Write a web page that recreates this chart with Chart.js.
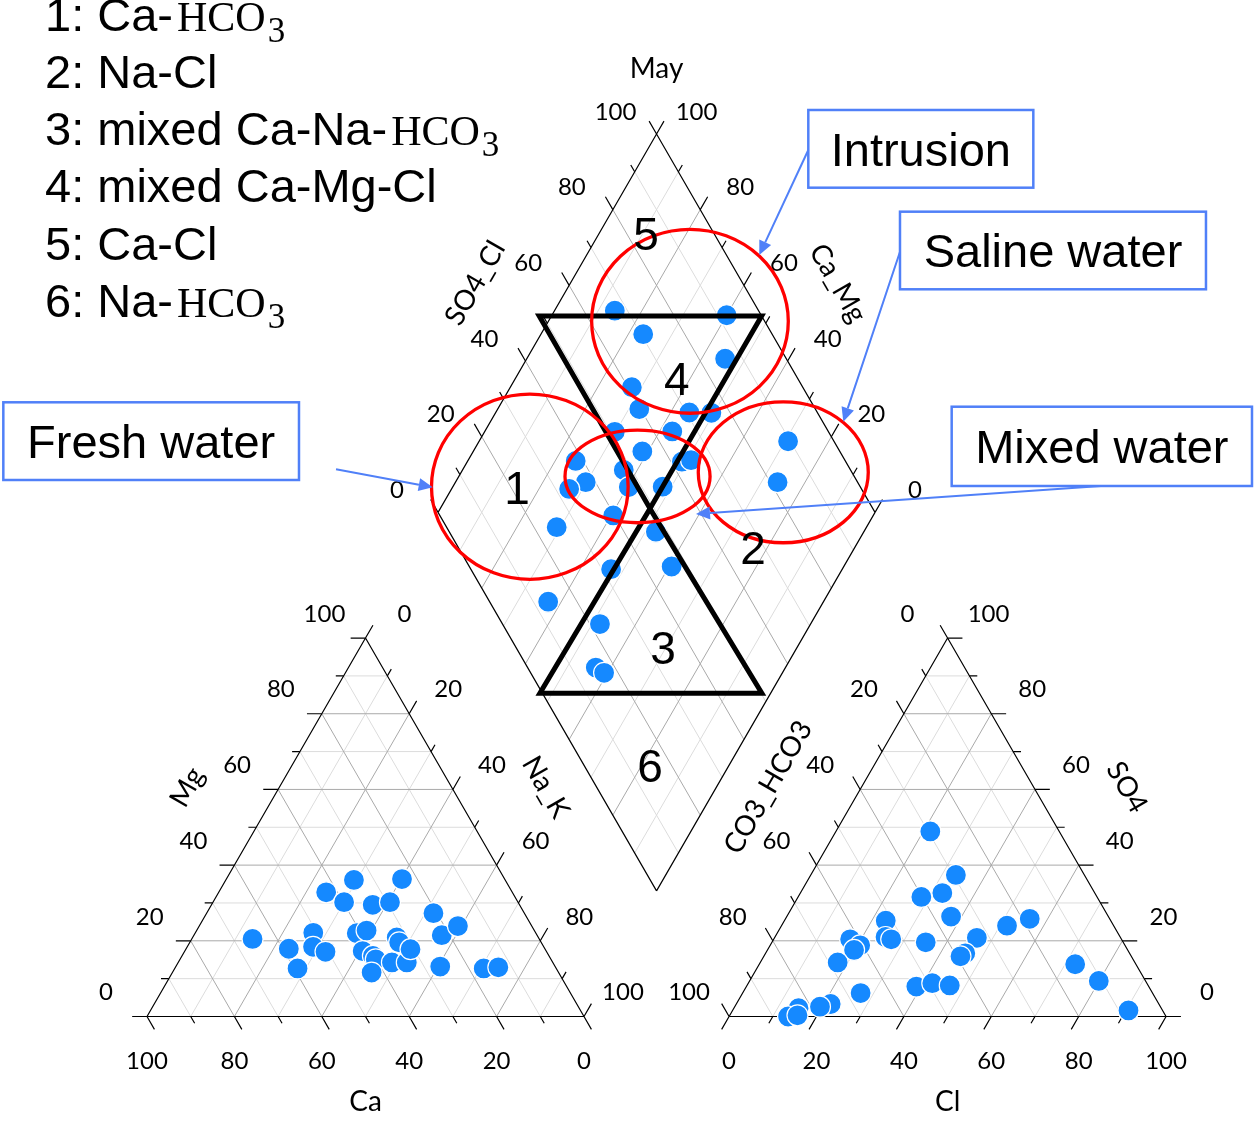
<!DOCTYPE html>
<html>
<head>
<meta charset="utf-8">
<script src="https://cdn.jsdelivr.net/npm/chart.js@4.4.1/dist/chart.umd.min.js"></script>
<style>
  html, body { margin: 0; padding: 0; background: #fff; }
  #wrap { width: 1254px; height: 1124px; }
</style>
</head>
<body>
<div id="wrap"><canvas id="piper"></canvas></div>
<script>
// cation triangle, % meq
const cationCa  = [65.6, 58.6, 59.2, 50.9, 52.8, 50.6, 42.6, 39.8, 34.6, 33.6, 29.3, 23.5, 41.0, 38.4, 42.0, 40.3, 40.1, 42.8, 36.8, 33.4, 32.4, 32.5, 30.8, 20.8, 21.8, 16.9, 26.3, 16.6, 13.1];
const cationMg  = [20.5, 17.9, 12.7, 22.1, 18.4, 17.1, 32.8, 30.2, 36.1, 29.5, 30.2, 36.3, 22.0, 22.7, 17.3, 16.0, 15.1, 11.6, 14.3, 14.3, 20.9, 19.6, 17.8, 27.3, 21.5, 23.9, 13.2, 12.7, 13.0];
const cationNaK = [13.9, 23.5, 28.1, 27.0, 28.8, 32.3, 24.6, 30.0, 29.3, 36.9, 40.5, 40.2, 37.0, 38.9, 40.7, 43.7, 44.8, 45.6, 48.9, 52.3, 46.7, 47.9, 51.4, 51.9, 56.7, 59.2, 60.5, 70.7, 73.9];

// anion triangle, % meq
const anionCl   = [21.6, 33.2, 32.5, 28.2, 37.6, 23.2, 25.3, 26.9, 17.5, 20.6, 19.8, 17.7, 35.2, 46.3, 45.7, 45.0, 51.6, 55.9, 72.3, 79.9, 90.6, 38.9, 42.1, 46.4, 27.0, 21.6, 19.5, 14.8, 13.5, 15.5];
const anionSO4  = [48.9, 37.4, 32.6, 31.6, 26.4, 25.3, 21.0, 20.4, 20.4, 18.8, 17.6, 14.3, 19.6, 20.8, 16.7, 15.9, 24.0, 25.8, 13.8, 9.4, 1.6, 7.9, 8.8, 8.2, 6.2, 3.3, 2.6, 2.2, 0.0, 0.3];
const anionHCO3 = [29.5, 29.4, 34.9, 40.2, 36.0, 51.5, 53.7, 52.7, 62.1, 60.6, 62.6, 68.0, 45.2, 32.9, 37.6, 39.1, 24.4, 18.3, 13.9, 10.7, 7.8, 53.2, 49.1, 45.4, 66.8, 75.1, 77.9, 83.0, 86.5, 84.2];

// diamond
const diamondSO4Cl = [67.1, 70.5, 92.1, 86.0, 60.9, 59.7, 70.7, 75.7, 64.3, 51.1, 54.8, 62.5, 64.8, 38.3, 37.8, 33.1, 48.1, 47.0, 54.8, 89.5, 81.7, 39.7, 25.2, 47.3, 32.1, 46.3, 13.4, 22.3, 15.6, 16.8];
const diamondCaMg  = [86.2, 76.6, 60.0, 54.6, 72.2, 67.6, 55.7, 50.6, 57.1, 70.2, 61.3, 50.9, 49.0, 75.3, 70.2, 73.1, 63.1, 59.7, 52.0, 29.3, 26.3, 59.5, 70.9, 47.6, 52.9, 39.4, 63.0, 48.2, 43.4, 40.8];

const majorTicks = [0, 20, 40, 60, 80, 100];
const minorTicks = [10, 30, 50, 70, 90];

const legendLines = [
  ['1: Ca-', true], ['2: Na-Cl', false], ['3: mixed Ca-Na-', true],
  ['4: mixed Ca-Mg-Cl', false], ['5: Ca-Cl', false], ['6: Na-', true]
];

// piper layout (triangle side = 100 units)
const R3 = Math.sqrt(3) / 2;
const GAP = 33.2;
const cat = (mg, nak) => ({ x: nak + mg / 2, y: mg * R3 });
const ani = (so4, cl) => ({ x: 100 + GAP + cl + so4 / 2, y: so4 * R3 });
const dia = (s, c) => ({ x: 100 + GAP / 2 + (s - c) / 2, y: GAP * R3 + (s + c) * R3 });

const GAPPT = { x: NaN, y: NaN };
function segs(list) {
  const out = [];
  list.forEach(([p, q]) => out.push(p, q, GAPPT));
  return out;
}

function gridLines(values) {
  const s = [];
  values.forEach(v => {
    s.push([cat(v, 0), cat(v, 100 - v)], [cat(0, v), cat(100 - v, v)], [cat(0, 100 - v), cat(100 - v, 0)]);
    s.push([ani(v, 0), ani(v, 100 - v)], [ani(0, v), ani(100 - v, v)], [ani(0, 100 - v), ani(100 - v, 0)]);
    s.push([dia(v, 0), dia(v, 100)], [dia(0, v), dia(100, v)]);
  });
  return segs(s);
}

function tickLines(values, len) {
  const s = [];
  const add = (p, dx, dy) => s.push([p, { x: p.x + dx * len, y: p.y + dy * len }]);
  values.forEach(v => {
    add(cat(v, 0), -1, 0);
    add(cat(0, 100 - v), 0.5, -R3);
    add(cat(100 - v, v), 0.5, R3);
    add(ani(v, 100 - v), 1, 0);
    add(ani(0, v), -0.5, -R3);
    add(ani(100 - v, 0), -0.5, R3);
    add(dia(v, 100), -0.5, R3);
    add(dia(100, v), 0.5, R3);
  });
  return segs(s);
}

const outlines = segs([
  [cat(0, 0), cat(0, 100)], [cat(0, 100), cat(100, 0)], [cat(100, 0), cat(0, 0)],
  [ani(0, 0), ani(0, 100)], [ani(0, 100), ani(100, 0)], [ani(100, 0), ani(0, 0)],
  [dia(0, 0), dia(100, 0)], [dia(100, 0), dia(100, 100)], [dia(100, 100), dia(0, 100)], [dia(0, 100), dia(0, 0)]
]);

const BLUE = '#1589ff';
const NOTE = '#5080f8';

function lineSet(data, color, width, order) {
  return { data, showLine: true, pointRadius: 0, borderColor: color, borderWidth: width, order };
}
function pointSet(data) {
  return { data, pointRadius: 10.5, backgroundColor: BLUE, borderColor: '#ffffff', borderWidth: 1.2, order: 0 };
}

const annotate = {
  id: 'annotate',
  afterDatasetsDraw(chart) {
    const ctx = chart.ctx;
    const sx = chart.scales.x, sy = chart.scales.y;
    const X = v => sx.getPixelForValue(v), Y = v => sy.getPixelForValue(v);
    const k = X(1) - X(0);
    const P = p => [X(p.x), Y(p.y)];
    ctx.save();

    // tick labels
    ctx.fillStyle = '#000';
    ctx.font = '24px Lato';
    ctx.textAlign = 'center';
    ctx.textBaseline = 'middle';
    const lab = (p, t, dx, dy) => { const [x, y] = P(p); ctx.fillText(String(t), x + dx, y + dy); };
    majorTicks.forEach(v => {
      lab(cat(v, 0), v, -41, -24);
      lab(cat(0, 100 - v), v, 0, 45);
      lab(cat(100 - v, v), v, 39, -24);
      lab(ani(0, v), v, 0, 45);
      lab(ani(v, 100 - v), v, 41, -24);
      lab(ani(100 - v, 0), v, -40, -24);
      lab(dia(v, 100), v, -41, -22);
      lab(dia(100, v), v, 40, -22);
    });

    // axis titles
    ctx.font = '28px Lato';
    const title = (p, t, dx, dy, rot) => {
      const [x, y] = P(p);
      ctx.save(); ctx.translate(x + dx, y + dy); ctx.rotate(rot); ctx.fillText(t, 0, 0); ctx.restore();
    };
    title(cat(50, 0), 'Mg', -69, -40, -Math.PI / 3);
    title(cat(50, 50), 'Na_K', 71, -40, Math.PI / 3);
    title(cat(0, 50), 'Ca', 0, 85, 0);
    title(ani(50, 0), 'CO3_HCO3', -70, -40, -Math.PI / 3);
    title(ani(50, 50), 'SO4', 70, -40, Math.PI / 3);
    title(ani(0, 50), 'Cl', 0, 85, 0);
    title(dia(50, 100), 'SO4_Cl', -72, -40, -Math.PI / 3);
    title(dia(100, 50), 'Ca_Mg', 72, -40, Math.PI / 3);
    title(dia(100, 100), 'May', 0, -65, 0);

    // hourglass
    ctx.strokeStyle = '#000';
    ctx.lineWidth = 5;
    ctx.lineJoin = 'miter';
    [[dia(49.1, 102.8), dia(100, 51.9), dia(49, 52)],
     [dia(49, 52), dia(-0.6, 52.8), dia(50.2, 2.0)]].forEach(tri => {
      ctx.beginPath();
      tri.forEach((p, i) => { const [x, y] = P(p); i ? ctx.lineTo(x, y) : ctx.moveTo(x, y); });
      ctx.closePath();
      ctx.stroke();
    });

    // water-type ellipses
    ctx.strokeStyle = '#ff0000';
    ctx.lineWidth = 3.3;
    [[dia(82.9, 67.6), 22.5, 21.05], [dia(24.4, 82.4), 22.5, 21.2],
     [dia(50.4, 59.1), 16.6, 10.6], [dia(84.3, 26.3), 19.45, 16.13]].forEach(([c, rx, ry]) => {
      const [x, y] = P(c);
      ctx.beginPath();
      ctx.ellipse(x, y, rx * k, ry * k, 0, 0, Math.PI * 2);
      ctx.stroke();
    });

    // region numbers
    ctx.fillStyle = '#000';
    ctx.font = '46px "Liberation Sans"';
    ctx.textBaseline = 'alphabetic';
    [['1', dia(21.4, 85.3)], ['2', dia(67.4, 23.2)], ['3', dia(33.6, 30.6)],
     ['4', dia(72.4, 63.1)], ['5', dia(84.5, 89.3)], ['6', dia(15.0, 18.0)]].forEach(([t, p]) => {
      const [x, y] = P(p);
      ctx.fillText(t, x, y + 16.5);
    });

    // callout boxes
    ctx.font = '47px "Liberation Sans"';
    [['Intrusion', 151.33, 207.44, 202.82, 189.66],
     ['Saline water', 172.31, 184.17, 242.33, 166.41],
     ['Fresh water', -32.88, 140.55, 34.78, 122.77],
     ['Mixed water', 184.14, 139.54, 252.86, 121.40]].forEach(([t, x0, y0, x1, y1]) => {
      const l = X(x0), tp = Y(y0), r = X(x1), b = Y(y1);
      ctx.fillStyle = '#fff';
      ctx.fillRect(l, tp, r - l, b - tp);
      ctx.strokeStyle = NOTE;
      ctx.lineWidth = 2.5;
      ctx.strokeRect(l, tp, r - l, b - tp);
      ctx.fillStyle = '#000';
      ctx.fillText(t, (l + r) / 2, (tp + b) / 2 + 16.8);
    });

    // callout arrows
    ctx.strokeStyle = NOTE;
    ctx.fillStyle = NOTE;
    ctx.lineWidth = 2;
    [[151.33, 198.28, 140.11, 174.26], [172.31, 175.01, 159.34, 136.11],
     [43.25, 125.22, 65.38, 121.10], [218.31, 121.40, 125.63, 114.99]].forEach(([ax, ay, bx, by]) => {
      const x0 = X(ax), y0 = Y(ay), x1 = X(bx), y1 = Y(by);
      const a = Math.atan2(y1 - y0, x1 - x0), hl = 14, hw = 6.5;
      const ex = x1 - Math.cos(a) * hl, ey = y1 - Math.sin(a) * hl;
      ctx.beginPath(); ctx.moveTo(x0, y0); ctx.lineTo(ex, ey); ctx.stroke();
      ctx.beginPath();
      ctx.moveTo(x1, y1);
      ctx.lineTo(ex + Math.sin(a) * hw, ey - Math.cos(a) * hw);
      ctx.lineTo(ex - Math.sin(a) * hw, ey + Math.cos(a) * hw);
      ctx.closePath(); ctx.fill();
    });

    // water type legend
    ctx.fillStyle = '#000';
    ctx.textAlign = 'left';
    legendLines.forEach(([t, hco3], i) => {
      let x = chart.chartArea.left + 45;
      const y = chart.chartArea.top + 30.7 + i * 57.2;
      ctx.font = '47px "Liberation Sans"';
      ctx.fillText(t, x, y);
      if (!hco3) return;
      x += ctx.measureText(t).width + 4;
      ctx.font = '42px "Liberation Serif"';
      ctx.fillText('HCO', x, y);
      x += ctx.measureText('HCO').width + 2;
      ctx.font = '35px "Liberation Serif"';
      ctx.fillText('3', x, y + 11);
    });

    ctx.restore();
  }
};

new Chart(document.getElementById('piper'), {
  type: 'scatter',
  data: {
    datasets: [
      pointSet(cationMg.map((mg, i) => cat(mg, cationNaK[i]))),
      pointSet(anionSO4.map((so4, i) => ani(so4, anionCl[i]))),
      pointSet(diamondSO4Cl.map((s, i) => dia(s, diamondCaMg[i]))),
      lineSet(outlines, '#000000', 1.2, 1),
      lineSet(tickLines(majorTicks, 3.4), '#000000', 1.2, 1),
      lineSet(tickLines(minorTicks, 1.8), '#000000', 1.2, 1),
      lineSet(gridLines([20, 40, 60, 80]), '#a9a9a9', 1, 2),
      lineSet(gridLines(minorTicks), '#dcdcdc', 1, 3)
    ]
  },
  options: {
    responsive: true,
    maintainAspectRatio: false,
    animation: false,
    events: [],
    layout: { padding: 0, autoPadding: false },
    plugins: { legend: { display: false }, tooltip: { enabled: false } },
    scales: {
      x: { type: 'linear', display: false, min: -33.64, max: 253.32 },
      y: { type: 'linear', display: false, min: -24.6, max: 232.61 }
    }
  },
  plugins: [annotate]
});
</script>
</body>
</html>
